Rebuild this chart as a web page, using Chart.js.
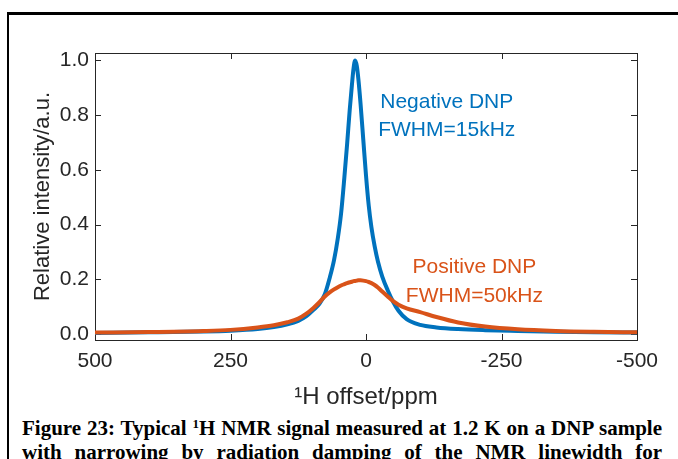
<!DOCTYPE html>
<html>
<head>
<meta charset="utf-8">
<script src="https://cdn.jsdelivr.net/npm/chart.js@4.4.1/dist/chart.umd.min.js"></script>
<style>
  html, body { margin: 0; padding: 0; background: #fff; }
  body { width: 678px; height: 459px; overflow: hidden; position: relative; }
  #frame { position: absolute; left: 7px; top: 12px; width: 720px; height: 500px; border-top: 3px solid #000; border-left: 2px solid #000; }
  #chartBox { position: absolute; left: 0; top: 0; width: 678px; height: 416px; }
  .caption { position: absolute; left: 22px; font-family: 'Liberation Serif', 'Times New Roman', serif; font-weight: bold; font-size: 21px; line-height: 24px; white-space: nowrap; color: #000; }
  .caption sup { font-size: 13px; line-height: 0; vertical-align: 7px; }
</style>
</head>
<body>
<div id="frame"></div>
<div id="chartBox"><canvas id="nmrChart" width="678" height="416"></canvas></div>
<div class="caption" style="top:416px">Figure 23: Typical <sup>1</sup>H NMR signal measured at 1.2 K on a DNP sample</div>
<div class="caption" style="top:440px">with narrowing by radiation damping of the NMR linewidth for</div>
<script>
// 1H offset in ppm (axis runs 500 -> -500)
const xPpm = [500, 400, 300, 250, 200, 170, 145, 125, 110, 97, 86, 76, 67, 59, 52, 46, 40, 35, 30, 26, 23, 20, 17, 14, 10, 5, 0,
    -5, -10, -16, -22, -30, -40, -50, -60, -75, -100, -130, -170, -220, -280, -350, -420, -500];

const negativeDnp = [0.004, 0.006, 0.009, 0.012, 0.018, 0.025, 0.035, 0.048, 0.065, 0.088, 0.11, 0.145, 0.205, 0.27, 0.35, 0.44, 0.57, 0.69, 0.82, 0.91, 0.97, 1.0, 0.98, 0.93, 0.84, 0.71, 0.58,
    0.47, 0.39, 0.32, 0.265, 0.21, 0.16, 0.118, 0.085, 0.054, 0.033, 0.024, 0.018, 0.014, 0.011, 0.008, 0.006, 0.005];

const positiveDnp = [0.005, 0.007, 0.011, 0.015, 0.024, 0.032, 0.043, 0.056, 0.074, 0.095, 0.116, 0.137, 0.152, 0.163, 0.171, 0.177, 0.182, 0.186, 0.189, 0.191, 0.193, 0.194, 0.195, 0.196, 0.196, 0.195, 0.193,
    0.19, 0.186, 0.179, 0.17, 0.155, 0.137, 0.12, 0.107, 0.094, 0.08, 0.062, 0.042, 0.027, 0.017, 0.011, 0.008, 0.006];

const xTickValues = [500, 250, 0, -250, -500];
const yTickValues = [0, 0.2, 0.4, 0.6, 0.8, 1.0];

const negativeText = ['Negative DNP', 'FWHM=15kHz'];
const positiveText = ['Positive DNP', 'FWHM=50kHz'];

const BLUE = '#0072BD';
const ORANGE = '#D95319';
const AXIS = '#262626';
const SANS = '"Liberation Sans", Arial, Helvetica, sans-serif';

const toPoints = (ys) => xPpm.map((x, i) => ({ x: x, y: ys[i] }));

// box around the axes with inward ticks on all four sides, plus the in-plot text
const axesBox = {
    id: 'axesBox',
    beforeDatasetsDraw(chart) {
        const { ctx, chartArea, scales } = chart;
        const { left, right, top, bottom } = chartArea;
        const len = 6;
        ctx.save();
        ctx.strokeStyle = AXIS;
        ctx.lineWidth = 1;
        ctx.strokeRect(left + 0.5, top + 0.5, right - left, bottom - top);
        ctx.beginPath();
        xTickValues.forEach(v => {
            const px = Math.round(scales.x.getPixelForValue(v)) + 0.5;
            ctx.moveTo(px, bottom); ctx.lineTo(px, bottom - len);
            ctx.moveTo(px, top); ctx.lineTo(px, top + len);
        });
        yTickValues.forEach(v => {
            const py = Math.round(scales.y.getPixelForValue(v)) + 0.5;
            ctx.moveTo(left, py); ctx.lineTo(left + len, py);
            ctx.moveTo(right, py); ctx.lineTo(right - len, py);
        });
        ctx.stroke();
        ctx.restore();
    },
    afterDatasetsDraw(chart) {
        const { ctx, scales } = chart;
        ctx.save();
        ctx.font = '21px ' + SANS;
        ctx.textAlign = 'center';
        ctx.textBaseline = 'middle';
        ctx.fillStyle = BLUE;
        ctx.fillText(negativeText[0], scales.x.getPixelForValue(-149), scales.y.getPixelForValue(0.848));
        ctx.fillText(negativeText[1], scales.x.getPixelForValue(-149), scales.y.getPixelForValue(0.746));
        ctx.fillStyle = ORANGE;
        ctx.fillText(positiveText[0], scales.x.getPixelForValue(-200), scales.y.getPixelForValue(0.245));
        ctx.fillText(positiveText[1], scales.x.getPixelForValue(-200), scales.y.getPixelForValue(0.139));
        ctx.restore();
    }
};

new Chart(document.getElementById('nmrChart'), {
    type: 'line',
    data: {
        datasets: [
            {
                label: 'Positive DNP',
                data: toPoints(positiveDnp),
                borderColor: ORANGE,
                borderWidth: 4,
                pointRadius: 0,
                cubicInterpolationMode: 'monotone',
                order: 0
            },
            {
                label: 'Negative DNP',
                data: toPoints(negativeDnp),
                borderColor: BLUE,
                borderWidth: 4,
                pointRadius: 0,
                cubicInterpolationMode: 'monotone',
                order: 1
            }
        ]
    },
    options: {
        responsive: false,
        animation: false,
        devicePixelRatio: 1,
        layout: { padding: { left: 20, right: 41, top: 53, bottom: 0 } },
        plugins: { legend: { display: false }, tooltip: { enabled: false } },
        scales: {
            x: {
                type: 'linear',
                reverse: true,
                min: -500,
                max: 500,
                afterBuildTicks: (s) => { s.ticks = xTickValues.map(v => ({ value: v })); },
                afterFit: (s) => { s.height = 76; },
                grid: { display: false, drawTicks: false },
                border: { display: false },
                ticks: {
                    autoSkip: false,
                    maxRotation: 0,
                    padding: 9,
                    color: AXIS,
                    font: { family: SANS, size: 21 },
                    callback: (v) => String(v)
                },
                title: {
                    display: true,
                    text: '\u00B9H offset/ppm',
                    color: AXIS,
                    font: { family: SANS, size: 24 },
                    padding: { top: 0, bottom: 4 }
                }
            },
            y: {
                type: 'linear',
                min: -0.022,
                max: 1.027,
                afterBuildTicks: (s) => { s.ticks = yTickValues.map(v => ({ value: v })); },
                afterFit: (s) => { s.width = 75; },
                grid: { display: false, drawTicks: false },
                border: { display: false },
                ticks: {
                    autoSkip: false,
                    padding: 6,
                    color: AXIS,
                    font: { family: SANS, size: 21 },
                    callback: (v) => Number(v).toFixed(1)
                },
                title: {
                    display: true,
                    text: 'Relative intensity/a.u.',
                    color: AXIS,
                    font: { family: SANS, size: 22 },
                    padding: { top: 10, bottom: 0 }
                }
            }
        }
    },
    plugins: [axesBox]
});

// justify each caption line across the same width
document.querySelectorAll('.caption').forEach(el => {
    const gaps = (el.textContent.match(/ /g) || []).length;
    const natural = el.getBoundingClientRect().width;
    el.style.wordSpacing = ((640 - natural) / gaps) + 'px';
});
</script>
</body>
</html>
